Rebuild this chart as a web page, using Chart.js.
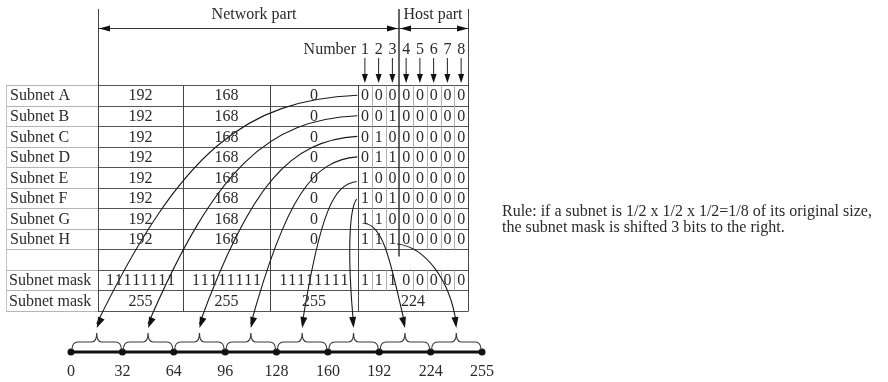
<!DOCTYPE html>
<html lang="en">
<head>
<meta charset="UTF-8">
<title>subnet mask</title>
<script src="https://cdn.jsdelivr.net/npm/chart.js"></script>
<style>
  html, body { margin: 0; padding: 0; background: #fff; }
  canvas { display: block; }
</style>
</head>
<body>
<canvas id="maskChart" width="888" height="382"></canvas>
<script>
// table content
const subnetNames = ['Subnet A', 'Subnet B', 'Subnet C', 'Subnet D', 'Subnet E', 'Subnet F', 'Subnet G', 'Subnet H'];
const octetValues = ['192', '168', '0'];
const subnetBits = ['000', '001', '010', '011', '100', '101', '110', '111'];
const hostBits = ['0', '0', '0', '0', '0'];
const maskLabel = 'Subnet mask';
const maskOctetBits = ['11111111', '11111111', '11111111'];
const maskLastBits = ['1', '1', '1', '0', '0', '0', '0', '0'];
const maskDecimals = ['255', '255', '255', '224'];
const bitNumbers = ['1', '2', '3', '4', '5', '6', '7', '8'];
// number line
const rangeTicks = ['0', '32', '64', '96', '128', '160', '192', '224', '255'];
const ruleLines = [
    'Rule: if a subnet is 1/2 x 1/2 x 1/2=1/8 of its original size,',
    'the subnet mask is shifted 3 bits to the right.'
];

// layout (pixels)
const FONT = '"Liberation Serif", "Times New Roman", serif';
const colEdges = [6, 98, 183, 270, 358, 468];
const hostSplit = 399;
const lineRow = 12.5;   // y value of the number line

// each subnet row links to its range on the number line
// start: [bit position, dy], c1 offset from start, c2 offset from arrow tip
const links = [
    { start: [-0.05, 0], c1: [-110, 5], c2: [85, -180] },
    { start: [-0.05, 0], c1: [-88, 4], c2: [68, -162] },
    { start: [-0.05, 0], c1: [-66, 4], c2: [51, -145] },
    { start: [-0.05, 0], c1: [-44, 3], c2: [35, -131] },
    { start: [-0.1, 4], c1: [-23, 3], c2: [18, -116] },
    { start: [-0.1, 1], c1: [-8, 11], c2: [-6, -68] },
    { start: [0.5, 5], c1: [20, 2], c2: [-13, -58] },
    { start: [2.85, 5], c1: [28, 3], c2: [-6, -48] }
];

function arrowHead(ctx, tx, ty, fx, fy, len, half) {
    const a = Math.atan2(ty - fy, tx - fx);
    ctx.beginPath();
    ctx.moveTo(tx, ty);
    ctx.lineTo(tx - len * Math.cos(a) + half * Math.sin(a), ty - len * Math.sin(a) - half * Math.cos(a));
    ctx.lineTo(tx - len * Math.cos(a) - half * Math.sin(a), ty - len * Math.sin(a) + half * Math.cos(a));
    ctx.closePath();
    ctx.fill();
}

function hLine(ctx, x0, x1, y) {
    ctx.beginPath();
    ctx.moveTo(x0, y);
    ctx.lineTo(x1, y);
    ctx.stroke();
}

function vLine(ctx, x, y0, y1) {
    ctx.beginPath();
    ctx.moveTo(x, y0);
    ctx.lineTo(x, y1);
    ctx.stroke();
}

const tablePlugin = {
    id: 'subnetTable',
    afterDraw(chart) {
        const ctx = chart.ctx;
        const xs = chart.scales.x;
        const ys = chart.scales.y;
        const rowC = i => ys.getPixelForValue(i);
        const rowEdge = i => Math.round(ys.getPixelForValue(i - 0.5)) + 0.5;
        const nRows = subnetNames.length + 3;
        const blankRow = subnetNames.length;
        const maskRow = blankRow + 1;
        const decRow = blankRow + 2;
        const top = rowEdge(0);
        const bottom = rowEdge(nRows);
        const bitLeft = colEdges[4];
        const bitW = (colEdges[5] - colEdges[4]) / 8;
        const bitX = k => bitLeft + bitW * k;
        const headTop = 9;

        ctx.save();
        ctx.lineWidth = 1;

        // horizontal rules
        for (let r = 0; r <= nRows; r++) {
            const y = rowEdge(r);
            ctx.strokeStyle = '#b5b5b5';
            hLine(ctx, colEdges[0], colEdges[1], y);
            ctx.strokeStyle = '#555';
            hLine(ctx, colEdges[1], colEdges[5], y);
        }
        // vertical rules
        ctx.strokeStyle = '#c4c4c4';
        vLine(ctx, colEdges[0] + 0.5, top, bottom);
        ctx.strokeStyle = '#444';
        vLine(ctx, colEdges[1] + 0.5, headTop, bottom);
        vLine(ctx, colEdges[2] + 0.5, top, bottom);
        vLine(ctx, colEdges[3] + 0.5, top, bottom);
        vLine(ctx, colEdges[4] + 0.5, top, bottom);
        vLine(ctx, colEdges[5] + 0.5, headTop, bottom);
        // bit cell dividers
        ctx.strokeStyle = '#b0b0b0';
        [...Array(blankRow).keys(), maskRow].forEach(r => {
            for (let k = 1; k < 8; k++) {
                if (k === 3) continue;
                vLine(ctx, Math.round(bitX(k)) + 0.5, rowEdge(r), rowEdge(r + 1));
            }
        });
        ctx.strokeStyle = '#333';
        ctx.lineWidth = 1.5;
        vLine(ctx, hostSplit, headTop, rowEdge(blankRow) + 7);

        // header arrows
        ctx.lineWidth = 1;
        ctx.strokeStyle = '#333';
        ctx.fillStyle = '#111';
        const ay = 28.5;
        hLine(ctx, colEdges[1], colEdges[5], ay);
        arrowHead(ctx, colEdges[1] + 1, ay, colEdges[1] + 20, ay, 11, 3);
        arrowHead(ctx, hostSplit - 1, ay, hostSplit - 20, ay, 11, 3);
        arrowHead(ctx, hostSplit + 1, ay, hostSplit + 20, ay, 11, 3);
        arrowHead(ctx, colEdges[5], ay, colEdges[5] - 20, ay, 11, 3);

        ctx.font = '16px ' + FONT;
        ctx.fillStyle = '#2a2a2a';
        ctx.textBaseline = 'middle';
        ctx.textAlign = 'center';
        ctx.fillText('Network part', 254, 15);
        ctx.fillText('Host part', 433, 15);
        ctx.textAlign = 'right';
        ctx.fillText('Number', 356, 50);
        ctx.textAlign = 'center';
        bitNumbers.forEach((n, k) => {
            const x = bitX(k + 0.5);
            ctx.fillStyle = '#2a2a2a';
            ctx.fillText(n, x, 50);
            ctx.strokeStyle = '#222';
            vLine(ctx, x, 58, 76);
            ctx.fillStyle = '#111';
            arrowHead(ctx, x, 83, x, 60, 9, 3);
        });

        // links from subnet bits to ranges
        ctx.strokeStyle = '#1a1a1a';
        ctx.fillStyle = '#111';
        ctx.lineWidth = 1.1;
        const lineY = ys.getPixelForValue(lineRow);
        const tipY = lineY - 24;
        links.forEach((lk, i) => {
            const sx = bitX(lk.start[0]);
            const sy = rowC(i) + lk.start[1];
            const ex = (xs.getPixelForValue(i) + xs.getPixelForValue(i + 1)) / 2;
            const c1x = sx + lk.c1[0], c1y = sy + lk.c1[1];
            const c2x = ex + lk.c2[0], c2y = tipY + lk.c2[1];
            ctx.beginPath();
            ctx.moveTo(sx, sy);
            ctx.bezierCurveTo(c1x, c1y, c2x, c2y, ex, tipY - 4);
            ctx.stroke();
            arrowHead(ctx, ex, tipY, c2x, c2y, 11, 3.5);
        });

        // table text
        ctx.fillStyle = '#2a2a2a';
        ctx.font = '16px ' + FONT;
        const colMid = c => (colEdges[c] + colEdges[c + 1]) / 2;
        subnetNames.forEach((name, i) => {
            const y = rowC(i) + 1;
            ctx.textAlign = 'left';
            ctx.fillText(name, 10, y);
            ctx.textAlign = 'center';
            octetValues.forEach((v, c) => ctx.fillText(v, colMid(c + 1), y));
            const bits = subnetBits[i].split('').concat(hostBits);
            bits.forEach((b, k) => ctx.fillText(b, bitX(k + 0.5), y));
        });
        [maskRow, decRow].forEach(r => {
            ctx.textAlign = 'left';
            ctx.fillText(maskLabel, 9, rowC(r) + 1);
        });
        ctx.textAlign = 'center';
        // mask octets: digits slightly spread like the original
        const digitStep = 8.7;
        maskOctetBits.forEach((v, c) => {
            const x0 = colMid(c + 1) - digitStep * (v.length - 1) / 2;
            v.split('').forEach((d, k) => ctx.fillText(d, x0 + k * digitStep, rowC(maskRow) + 1));
        });
        maskLastBits.forEach((b, k) => ctx.fillText(b, bitX(k + 0.5), rowC(maskRow) + 1));
        maskDecimals.forEach((v, c) => ctx.fillText(v, colMid(c + 1), rowC(decRow) + 1));

        // braces over each range
        ctx.strokeStyle = '#3a3a3a';
        ctx.lineWidth = 1.2;
        for (let i = 0; i < rangeTicks.length - 1; i++) {
            const x0 = xs.getPixelForValue(i), x1 = xs.getPixelForValue(i + 1);
            const mid = (x0 + x1) / 2;
            const yB = lineY - 2, yH = lineY - 10, yT = lineY - 19;
            ctx.beginPath();
            ctx.moveTo(x0 + 1, yB);
            ctx.quadraticCurveTo(x0 + 1, yH, x0 + 7, yH);
            ctx.lineTo(mid - 5, yH);
            ctx.quadraticCurveTo(mid, yH, mid, yT);
            ctx.quadraticCurveTo(mid, yH, mid + 5, yH);
            ctx.lineTo(x1 - 7, yH);
            ctx.quadraticCurveTo(x1 - 1, yH, x1 - 1, yB);
            ctx.stroke();
        }

        // rule text
        ctx.fillStyle = '#2a2a2a';
        ctx.font = '16px ' + FONT;
        ctx.textAlign = 'left';
        ruleLines.forEach((t, i) => ctx.fillText(t, 502, 212 + i * 15.5));
        ctx.restore();
    }
};

new Chart(document.getElementById('maskChart'), {
    type: 'line',
    data: {
        labels: rangeTicks,
        datasets: [{
            data: rangeTicks.map(() => lineRow),
            borderColor: '#111',
            borderWidth: 3,
            pointRadius: 3.5,
            pointBackgroundColor: '#111',
            pointBorderWidth: 0,
            clip: false
        }]
    },
    options: {
        responsive: false,
        animation: false,
        devicePixelRatio: 1,
        layout: { padding: { left: 71, right: 406, top: 85, bottom: 0 } },
        plugins: { legend: { display: false }, tooltip: { enabled: false } },
        scales: {
            x: {
                grid: { display: false, drawTicks: false },
                border: { display: false },
                ticks: { color: '#2a2a2a', padding: 10, autoSkip: false, maxRotation: 0, font: { family: FONT, size: 16 } },
                afterFit: s => { s.height = 30; }
            },
            y: { display: false, reverse: true, min: -0.5, max: lineRow }
        }
    },
    plugins: [tablePlugin]
});
</script>
</body>
</html>
